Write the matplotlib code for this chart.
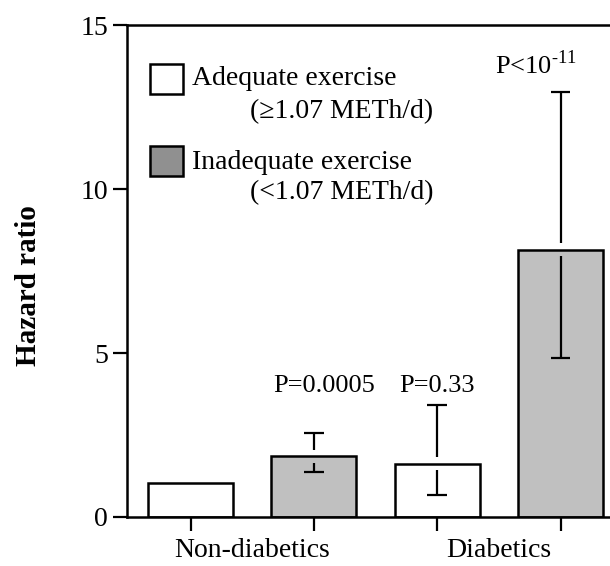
import matplotlib.pyplot as plt
from matplotlib.patches import Rectangle

groups = ["Non-diabetics", "Diabetics"]
conditions = ["Adequate exercise", "Inadequate exercise"]
cond_notes = ["(\u22651.07 METh/d)", "(<1.07 METh/d)"]
hazard = [1.05, 1.85, 1.63, 8.15]
ci_low = [None, 1.37, 0.67, 4.85]
ci_high = [None, 2.55, 3.43, 12.95]
p_labels = ["P=0.0005", "P=0.33", "P<10$^{\\text{-11}}$"]
p_x = [1.08, 2.0, 2.8]
p_heights = [4.0, 4.0, 13.8]

plt.rcParams["font.family"] = ["Liberation Serif", "DejaVu Serif"]
plt.rcParams["mathtext.fontset"] = "custom"
plt.rcParams["mathtext.rm"] = "Liberation Serif"

colors = ["white", "#c0c0c0", "white", "#c0c0c0"]
xpos = [0, 1, 2, 3]

fig = plt.figure(figsize=(6.1, 5.66), dpi=100)
ax = fig.add_axes([0.208, 0.0866, 0.80, 0.869])

ax.bar(xpos, hazard, width=0.69, color=colors, edgecolor="black", linewidth=1.8, zorder=2)

# error bars leave a small gap where they cross the bar top
gap = 0.2
cap = 0.08
for x, h, lo, hi in zip(xpos, hazard, ci_low, ci_high):
    if lo is None:
        continue
    ax.vlines(x, h + gap, hi, color="black", linewidth=1.6, zorder=3)
    ax.vlines(x, lo, h - gap, color="black", linewidth=1.6, zorder=3)
    ax.hlines([lo, hi], x - cap, x + cap, color="black", linewidth=1.6, zorder=3)

for x, lab, y in zip(p_x, p_labels, p_heights):
    ax.text(x, y, lab, ha="center", va="center", fontsize=19)

ax.set_xlim(-0.516, 3.44)
ax.set_ylim(0, 15)
ax.set_yticks([0, 5, 10, 15])
ax.set_xticks(xpos)
ax.set_xticklabels([])
ax.set_xticks([0.5, 2.5], minor=True)
ax.set_xticklabels(groups, minor=True, fontsize=20)
ax.tick_params(axis="x", which="minor", length=0, pad=15)
ax.tick_params(axis="both", which="major", length=10, width=1.6, labelsize=20, direction="out")
ax.set_ylabel("Hazard ratio", fontsize=21, fontweight="bold")
ax.yaxis.set_label_coords(-0.174, 0.47)

for s in ["left", "top", "bottom"]:
    ax.spines[s].set_linewidth(1.8)
ax.spines["right"].set_visible(False)

# legend drawn by hand
fills = ["white", "#909090"]
box_y = [12.9, 10.4]
text_y = [13.38, 10.82]
note_y = [12.35, 9.88]
for i, (cond, note) in enumerate(zip(conditions, cond_notes)):
    ax.add_patch(Rectangle((-0.328, box_y[i]), 0.27, 0.9, facecolor=fills[i],
                           edgecolor="black", linewidth=1.8, zorder=4))
    ax.text(0.008, text_y[i], cond, ha="left", va="center", fontsize=20)
    ax.text(0.48, note_y[i], note, ha="left", va="center", fontsize=20)

fig.savefig("out.png", dpi=100)
